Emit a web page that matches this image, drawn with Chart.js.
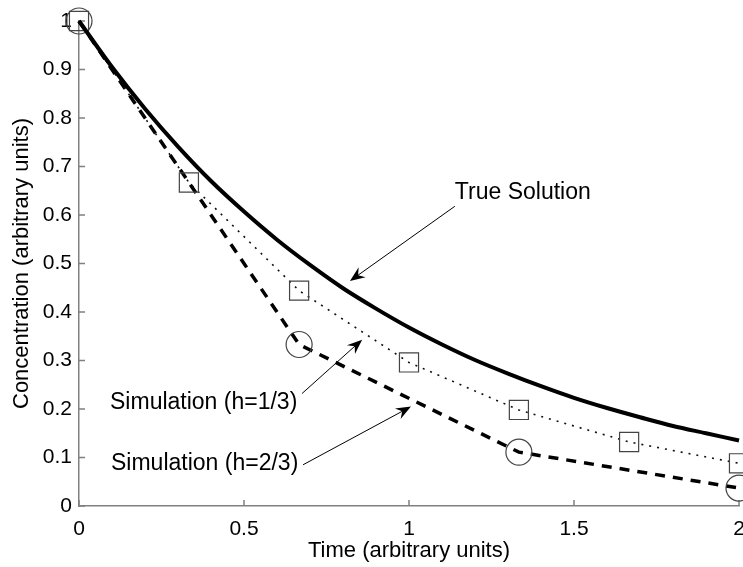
<!DOCTYPE html>
<html>
<head>
<meta charset="utf-8">
<script src="https://cdn.jsdelivr.net/npm/chart.js@4"></script>
<style>
  html, body { margin: 0; padding: 0; background: #fff; }
  #wrap { width: 743px; height: 567px; }
</style>
</head>
<body>
<div id="wrap"><canvas id="chart" width="743" height="567"></canvas></div>
<script>
// values
const trueTimes = [0, 0.1, 0.2, 0.3, 0.4, 0.5, 0.6, 0.7, 0.8, 0.9, 1.0,
                   1.1, 1.2, 1.3, 1.4, 1.5, 1.6, 1.7, 1.8, 1.9, 2.0];
const trueValues = [1.000, 0.905, 0.819, 0.741, 0.670, 0.607, 0.549, 0.497, 0.449, 0.407, 0.368,
                    0.333, 0.301, 0.273, 0.247, 0.223, 0.202, 0.183, 0.165, 0.150, 0.135];

const h1Times = [0, 0.333, 0.667, 1.0, 1.333, 1.667, 2.0];
const h1Values = [1.0, 0.667, 0.444, 0.296, 0.198, 0.132, 0.088];

const h2Times = [0, 0.667, 1.333, 2.0];
const h2Values = [1.0, 0.333, 0.111, 0.037];

const xTickStep = 0.5;
const yTickStep = 0.1;

const xTitle = 'Time (arbitrary units)';
const yTitle = 'Concentration (arbitrary units)';

// text labels with arrows (data units)
const notes = [
  { text: 'True Solution', tx: 1.139, ty: 0.646, from: [1.139, 0.618], to: [0.821, 0.464] },
  { text: 'Simulation (h=1/3)', tx: 0.094, ty: 0.213, from: [0.676, 0.232], to: [0.858, 0.343] },
  { text: 'Simulation (h=2/3)', tx: 0.097, ty: 0.087, from: [0.679, 0.085], to: [1.006, 0.205] }
];

const FONT = 'Liberation Sans, Arial, Helvetica, sans-serif';
const AXIS_GRAY = '#808080';

function pts(xs, ys) {
  return xs.map((x, i) => ({ x: x, y: ys[i] }));
}

function fmt(v) {
  return String(+v.toFixed(2));
}

// ticks pointing into the plot, like the original
const innerTicks = {
  id: 'innerTicks',
  beforeDatasetsDraw(chart) {
    const ctx = chart.ctx;
    const xs = chart.scales.x, ys = chart.scales.y;
    const area = chart.chartArea;
    ctx.save();
    ctx.strokeStyle = AXIS_GRAY;
    ctx.lineWidth = 1.5;
    ctx.beginPath();
    xs.ticks.forEach(t => {
      const px = xs.getPixelForValue(t.value);
      ctx.moveTo(px, area.bottom);
      ctx.lineTo(px, area.bottom - 6);
    });
    ys.ticks.forEach(t => {
      const py = ys.getPixelForValue(t.value);
      ctx.moveTo(area.left, py);
      ctx.lineTo(area.left + 6, py);
    });
    ctx.stroke();
    ctx.restore();
  }
};

function arrow(ctx, x1, y1, x2, y2) {
  const ang = Math.atan2(y2 - y1, x2 - x1);
  const len = 15, half = 6, notch = 5;
  ctx.beginPath();
  ctx.moveTo(x1, y1);
  ctx.lineTo(x2 - Math.cos(ang) * notch, y2 - Math.sin(ang) * notch);
  ctx.stroke();
  const bx = x2 - Math.cos(ang) * len, by = y2 - Math.sin(ang) * len;
  const nx = -Math.sin(ang), ny = Math.cos(ang);
  ctx.beginPath();
  ctx.moveTo(x2, y2);
  ctx.lineTo(bx + nx * half, by + ny * half);
  ctx.lineTo(x2 - Math.cos(ang) * (len - notch), y2 - Math.sin(ang) * (len - notch));
  ctx.lineTo(bx - nx * half, by - ny * half);
  ctx.closePath();
  ctx.fill();
}

const annotations = {
  id: 'annotations',
  afterDatasetsDraw(chart) {
    const ctx = chart.ctx;
    const xs = chart.scales.x, ys = chart.scales.y;
    ctx.save();
    ctx.fillStyle = '#000';
    ctx.strokeStyle = '#000';
    ctx.lineWidth = 1;
    ctx.font = '23px ' + FONT;
    ctx.textAlign = 'left';
    ctx.textBaseline = 'middle';
    notes.forEach(n => {
      ctx.fillText(n.text, xs.getPixelForValue(n.tx), ys.getPixelForValue(n.ty));
      arrow(ctx,
        xs.getPixelForValue(n.from[0]), ys.getPixelForValue(n.from[1]),
        xs.getPixelForValue(n.to[0]), ys.getPixelForValue(n.to[1]));
    });
    ctx.restore();
  }
};

const ctx = document.getElementById('chart').getContext('2d');
const chart = new Chart(ctx, {
  type: 'line',
  data: {
    datasets: [
      {
        label: 'True Solution',
        data: pts(trueTimes, trueValues),
        borderColor: '#000',
        borderWidth: 4,
        pointRadius: 0,
        cubicInterpolationMode: 'monotone',
        fill: false,
        clip: false
      },
      {
        label: 'Simulation (h=1/3)',
        data: pts(h1Times, h1Values),
        borderColor: '#111',
        borderWidth: 1.6,
        borderDash: [2, 6],
        pointStyle: 'rect',
        pointRadius: 13.5,
        pointBorderColor: '#444',
        pointBorderWidth: 1.2,
        pointBackgroundColor: 'rgba(0,0,0,0)',
        tension: 0,
        fill: false,
        clip: false
      },
      {
        label: 'Simulation (h=2/3)',
        data: pts(h2Times, h2Values),
        borderColor: '#000',
        borderWidth: 3.5,
        borderDash: [10, 8],
        pointStyle: 'circle',
        pointRadius: 13,
        pointBorderColor: '#444',
        pointBorderWidth: 1.2,
        pointBackgroundColor: 'rgba(0,0,0,0)',
        tension: 0,
        fill: false,
        clip: false
      }
    ]
  },
  options: {
    responsive: false,
    animation: false,
    layout: { autoPadding: false, padding: { top: 21, right: 4, left: 0, bottom: 0 } },
    plugins: { legend: { display: false }, tooltip: { enabled: false } },
    scales: {
      x: {
        type: 'linear',
        min: 0,
        max: 2,
        ticks: { stepSize: xTickStep, color: '#000', padding: 11, font: { family: FONT, size: 21 }, callback: fmt },
        grid: { display: false, drawTicks: false },
        border: { color: AXIS_GRAY, width: 1.5 },
        title: { display: true, text: xTitle, color: '#000', font: { family: FONT, size: 22 }, padding: { top: 3, bottom: 3 } },
        afterFit: s => { s.height = 61; s.paddingLeft = 0; s.paddingRight = 0; }
      },
      y: {
        type: 'linear',
        min: 0,
        max: 1,
        ticks: { stepSize: yTickStep, color: '#000', padding: 7, font: { family: FONT, size: 21 }, callback: fmt },
        grid: { display: false, drawTicks: false },
        border: { color: AXIS_GRAY, width: 1.5 },
        title: { display: true, text: yTitle, color: '#000', font: { family: FONT, size: 22 }, padding: { top: 9, bottom: 9 } },
        afterFit: s => { s.width = 79; s.paddingTop = 0; s.paddingBottom = 0; }
      }
    }
  },
  plugins: [innerTicks, annotations]
});
</script>
</body>
</html>
